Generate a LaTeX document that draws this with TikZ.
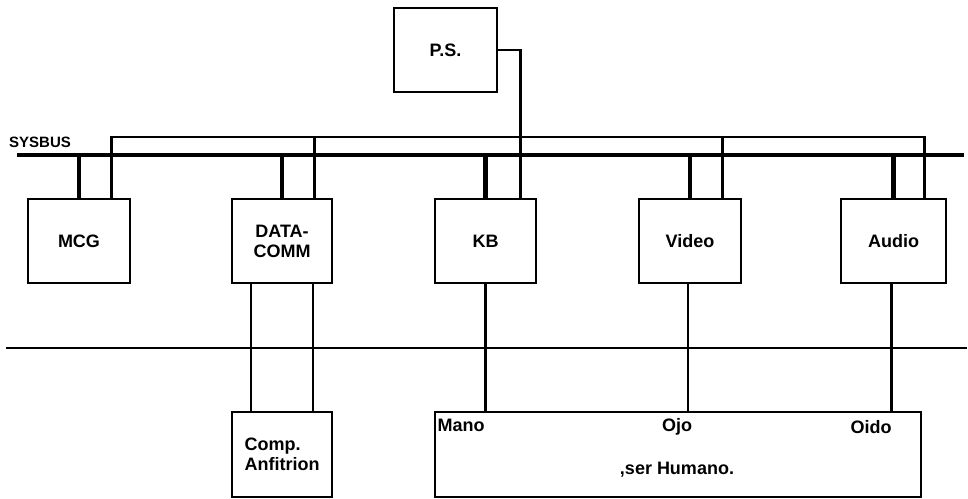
\documentclass[tikz,border=0pt]{standalone}
\usepackage{fontspec}
\setmainfont{Liberation Sans}
\usepackage{tikz}
\usetikzlibrary{positioning}

\begin{document}
\begin{tikzpicture}[
    x=1pt, y=-1pt,
    every node/.style={font=\bfseries\fontsize{18}{20}\selectfont},
    blk/.style={draw, line width=2.8pt, minimum height=84pt, inner sep=2pt, align=center},
    bus/.style={line width=4.6pt},
    stub/.style={line width=4.6pt},
    wire/.style={line width=2.4pt},
    sep/.style={line width=1.6pt},
]
  \useasboundingbox (0,0) rectangle (968,498);
  % boxes
  \node[blk, minimum width=103pt] (ps) at (445.5,50) {P.S.};
  \node[blk, minimum width=102pt] (mcg) at (79,241) {MCG};
  \node[blk, minimum width=100pt] (dc) at (282,241) {DATA-\\COMM};
  \node[blk, minimum width=101pt] (kb) at (485.5,241) {KB};
  \node[blk, minimum width=102pt] (vid) at (690,241) {Video};
  \node[blk, minimum width=105pt] (aud) at (893.5,241) {Audio};
  \node[blk, minimum width=100pt, minimum height=85pt, align=left] (comp) at (282,454.5) {Comp.\\Anfitrion};
  \node[blk, minimum width=486pt, minimum height=85pt] (hum) at (678,454.5) {};
  \node (mano) at (461,425) {Mano};
  \node (ojo) at (677,427) {Ojo};
  \node (oido) at (871,427) {Oido};
  \node (ser) at (677,470) {,ser Humano.};
  % sysbus
  \coordinate (busL) at (17,155);
  \coordinate (busR) at (964,155);
  \coordinate (lnk) at (0,137);
  \draw[bus] (busL) -- (busR);
  \node[font=\bfseries\fontsize{15}{15}\selectfont, anchor=south west, inner sep=0pt] (sb) at (9,148) {SYSBUS};
  \foreach \n in {mcg,dc,kb,vid,aud}{ \draw[stub] (\n.north) -- (\n.north |- busL); }
  % second line
  \foreach \n/\d in {mcg/20,dc/19,kb/17,vid/20,aud/23}{ \coordinate (\n-t) at ([xshift=-\d pt]\n.north east); }
  \draw[wire] (mcg-t) |- (aud-t |- lnk) -- (aud-t);
  \draw[wire] (dc-t) -- (dc-t |- lnk);
  \draw[wire] (vid-t) -- (vid-t |- lnk);
  \draw[wire] (ps.east) -| (kb-t);
  % divider
  \draw[sep] (6,348) -- (967,348);
  % down links
  \draw[wire] ([xshift=-31pt]dc.south) -- ([xshift=-31pt]comp.north);
  \draw[wire] ([xshift=31pt]dc.south) -- ([xshift=31pt]comp.north);
  \draw[wire] (kb.south) -- (kb.south |- hum.north);
  \draw[wire] ([xshift=-2pt]vid.south) -- ([xshift=-2pt]vid.south |- hum.north);
  \draw[wire] ([xshift=-2pt]aud.south) -- ([xshift=-2pt]aud.south |- hum.north);
\end{tikzpicture}
\end{document}
